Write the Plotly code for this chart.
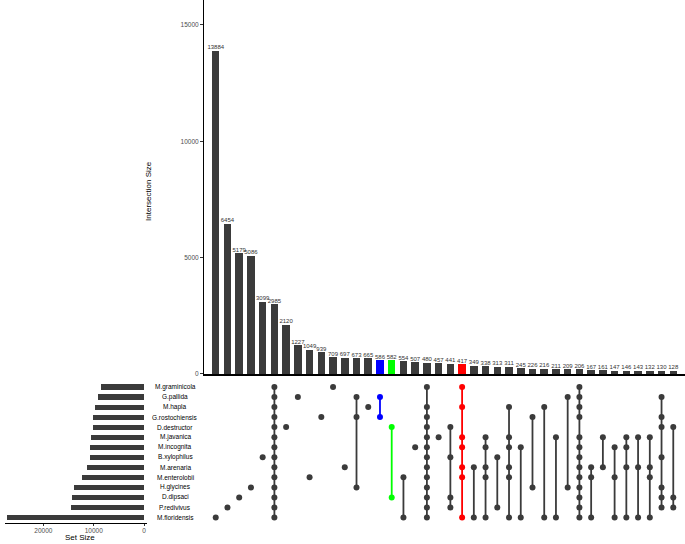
import plotly.graph_objects as go

W, H = 685, 544

sets = ["M.graminicola", "G.pallida", "M.hapla", "G.rostochiensis", "D.destructor",
        "M.javanica", "M.incognita", "B.xylophilus", "M.arenaria", "M.enterolobii",
        "H.glycines", "D.dipsaci", "P.redivivus", "M.floridensis"]
set_sizes = [8500, 9240, 9830, 10100, 10230, 10630, 10760, 10830, 11350, 12280,
             13920, 14320, 14450, 27270]

intersection_sizes = [13884, 6454, 5179, 5086, 3099, 2985, 2120, 1227, 1049, 939,
                      709, 697, 673, 665, 586, 582, 554, 507, 480, 457,
                      441, 417, 349, 338, 313, 311, 245, 226, 216, 211,
                      209, 206, 167, 161, 147, 146, 143, 132, 130, 128]

# membership of each intersection (indices into sets)
members = [
    [13], [12], [11], [10], [7], list(range(14)), [4], [1], [9], [3],
    [0], [8], [1, 3, 10], [2], [1, 3], [4, 11], [9, 13], [6],
    [0, 2, 3, 4, 5, 6, 7, 8, 9, 10, 11, 12, 13], [5],
    [4, 7, 11, 12], [0, 2, 5, 6, 8, 9, 13], [8, 13], [5, 6, 8, 9, 13], [7, 12],
    [2, 5, 6, 8, 9, 13], [6, 13], [3, 10], [2, 13], [5, 13],
    [1, 10], [0, 1, 2, 3, 5, 6, 7, 8, 9, 10, 11, 12, 13], [8, 9, 13], [5, 8],
    [6, 9, 13], [5, 6, 8, 13], [5, 8, 13], [5, 8, 9, 13],
    [1, 3, 4, 7, 10, 11, 12], [4, 11, 12],
]

DARK = "#3B3B3B"
highlight = {14: "#0000FF", 15: "#00FF00", 21: "#FF0000"}
FONT = "Liberation Sans"

n = len(intersection_sizes)
cols = list(range(n))
bar_colors = [highlight.get(i, DARK) for i in cols]

fig = go.Figure()

# intersection bars
fig.add_trace(go.Bar(x=cols, y=intersection_sizes, marker_color=bar_colors,
                     marker_line_width=0, width=0.64, xaxis="x", yaxis="y",
                     showlegend=False, hoverinfo="skip"))
fig.add_trace(go.Scatter(x=cols, y=intersection_sizes, mode="text",
                         text=[str(v) for v in intersection_sizes],
                         textposition="top center",
                         textfont=dict(size=6, color="#333333", family=FONT),
                         xaxis="x", yaxis="y", showlegend=False, hoverinfo="skip"))

# matrix: lines + dots
for i, m in enumerate(members):
    c = highlight.get(i, DARK)
    lo, hi = min(m), max(m)
    if hi > lo:
        fig.add_trace(go.Scatter(x=[i, i], y=[lo, hi], mode="lines",
                                 line=dict(color=c, width=1.8),
                                 xaxis="x2", yaxis="y2", showlegend=False, hoverinfo="skip"))
    fig.add_trace(go.Scatter(x=[i] * len(m), y=m, mode="markers",
                             marker=dict(color=c, size=6),
                             xaxis="x2", yaxis="y2", showlegend=False, hoverinfo="skip"))

# set size bars
fig.add_trace(go.Bar(x=set_sizes, y=list(range(len(sets))), orientation="h",
                     marker_color=DARK, marker_line_width=0, width=0.52,
                     xaxis="x3", yaxis="y3", showlegend=False, hoverinfo="skip"))

# set names
for r, name in enumerate(sets):
    fig.add_annotation(x=175 / W, xref="paper", y=r, yref="y2", text=name,
                       showarrow=False, xanchor="center", yanchor="middle",
                       font=dict(size=6.5, color="#000000", family=FONT))

fig.add_annotation(x=80 / W, xref="paper", y=1 - 540 / H, yref="paper", text="Set Size",
                   showarrow=False, xanchor="center", yanchor="middle",
                   font=dict(size=8, color="#000000", family=FONT))
fig.add_annotation(x=149 / W, xref="paper", y=1 - 192 / H, yref="paper",
                   text="Intersection Size", textangle=-90,
                   showarrow=False, xanchor="center", yanchor="middle",
                   font=dict(size=8, color="#000000", family=FONT))

bar_dom = [204 / W, 1.0]
mat_dom = [1 - 525.5 / H, 1 - 384 / H]

fig.update_layout(
    width=W, height=H, autosize=False,
    margin=dict(l=0, r=0, t=0, b=0),
    paper_bgcolor="white", plot_bgcolor="white",
    font=dict(family=FONT),
    bargap=0,
    xaxis=dict(domain=bar_dom, range=[-1, 40], showgrid=False, zeroline=False,
               showticklabels=False, ticks="", showline=True, linecolor="black",
               linewidth=1.5, anchor="y"),
    yaxis=dict(domain=[1 - 376 / H, 1.0], range=[0, 16070], showgrid=False,
               zeroline=False, tickvals=[0, 5000, 10000, 15000], tickformat="d",
               ticks="outside", ticklen=3, tickcolor="#333333", showline=True,
               linecolor="black", linewidth=1,
               tickfont=dict(size=6.5, color="#4D4D4D"), anchor="x"),
    xaxis2=dict(domain=bar_dom, range=[-1, 40], visible=False, anchor="y2"),
    yaxis2=dict(domain=mat_dom, range=[13.5, -0.5], visible=False, anchor="x2"),
    xaxis3=dict(domain=[5 / W, 147 / W], range=[27634, -596], showgrid=False,
                zeroline=False, tickvals=[0, 10000, 20000], tickformat="d",
                ticks="outside", ticklen=2, tickcolor="#333333", showline=True,
                linecolor="black", linewidth=1,
                tickfont=dict(size=6.5, color="#4D4D4D"), anchor="y3"),
    yaxis3=dict(domain=mat_dom, range=[13.5, -0.5], visible=False, anchor="x3"),
)

fig.write_html("out.html", config={"displayModeBar": False},
               post_script="document.body.style.margin='0px';document.body.style.padding='0px';")
